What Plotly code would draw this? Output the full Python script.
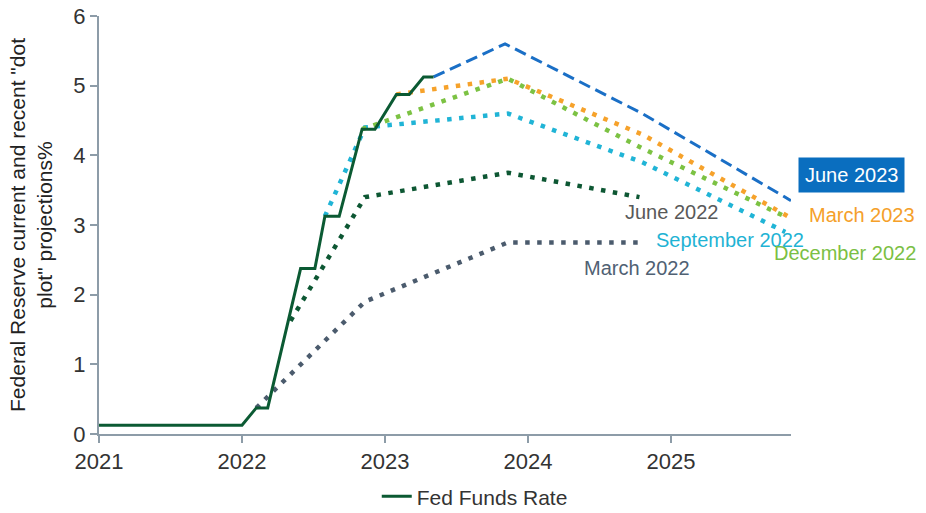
import plotly.graph_objects as go

# Fed funds rate (midpoint of target range), decimal years
ffr_x = [2021.0, 2022.0, 2022.10, 2022.18, 2022.41, 2022.51, 2022.58, 2022.68,
         2022.84, 2022.93, 2023.08, 2023.17, 2023.27, 2023.34]
ffr_y = [0.125, 0.125, 0.375, 0.375, 2.375, 2.375, 3.125, 3.125,
         4.375, 4.375, 4.875, 4.875, 5.125, 5.125]

# Dot-plot projections (start at policy rate, then year-end medians)
mar22_x = [2022.10, 2022.86, 2023.86, 2024.78]
mar22_y = [0.375, 1.9, 2.75, 2.75]
jun22_x = [2022.34, 2022.86, 2023.86, 2024.78]
jun22_y = [1.625, 3.4, 3.75, 3.4]
sep22_x = [2022.58, 2022.86, 2023.86, 2024.80, 2025.80]
sep22_y = [3.125, 4.4, 4.6, 3.9, 2.9]
dec22_x = [2022.84, 2023.86, 2024.80, 2025.82]
dec22_y = [4.375, 5.1, 4.1, 3.1]
mar23_x = [2023.08, 2023.86, 2024.80, 2025.84]
mar23_y = [4.875, 5.1, 4.3, 3.1]
jun23_x = [2023.34, 2023.84, 2024.80, 2025.84]
jun23_y = [5.125, 5.6, 4.6, 3.35]

tick_vals = [2021, 2022, 2023, 2024, 2025]
tick_text = ["2021", "2022", "2023", "2024", "2025"]

FONT = "Liberation Sans, Arial, sans-serif"

fig = go.Figure()

def proj(x, y, color, dash, width, name):
    fig.add_trace(go.Scatter(x=x, y=y, mode="lines", name=name, showlegend=False,
                             line=dict(color=color, width=width, dash=dash),
                             hoverinfo="skip"))

DOT = "4.5px,7.5px"
proj(mar22_x, mar22_y, "#4b5b6d", DOT, 4.5, "March 2022")
proj(jun22_x, jun22_y, "#0d5733", DOT, 4.5, "June 2022")
proj(sep22_x, sep22_y, "#20b4d6", DOT, 4.5, "September 2022")
proj(dec22_x, dec22_y, "#7cc243", DOT, 4.5, "December 2022")
proj(mar23_x, mar23_y, "#f6a22b", DOT, 4.5, "March 2023")
proj(jun23_x, jun23_y, "#1a6fc6", "12px,6px", 3, "June 2023")

fig.add_trace(go.Scatter(x=ffr_x, y=ffr_y, mode="lines", name="Fed Funds Rate",
                         line=dict(color="#0b5a33", width=3)))

def lab(text, x, y, color, **kw):
    fig.add_annotation(text=text, x=x, y=y, xref="paper", yref="paper",
                       showarrow=False, font=dict(family=FONT, size=20, color=color),
                       xanchor="center", yanchor="middle", **kw)

lab("June 2023", 1.0874, 0.6196, "white", bgcolor="#0a6ebf", borderpad=6)
lab("March 2023", 1.102, 0.524, "#f5a02a")
lab("June 2022", 0.828, 0.531, "#595959")
lab("September 2022", 0.912, 0.464, "#1fb3d4")
lab("December 2022", 1.078, 0.433, "#7bbf44")
lab("March 2022", 0.777, 0.397, "#506173")

axis_col = "#8d9ca8"
fig.update_layout(
    width=926, height=513,
    margin=dict(l=99, r=135, t=16, b=79, autoexpand=False),
    paper_bgcolor="white", plot_bgcolor="white",
    font=dict(family=FONT, size=21, color="#333333"),
    showlegend=True,
    legend=dict(orientation="h", x=0.543, y=-0.15, xanchor="center", yanchor="middle",
                font=dict(family=FONT, size=21, color="#333333"), bgcolor="rgba(0,0,0,0)"),
    xaxis=dict(range=[2021, 2025.84], tickvals=tick_vals, ticktext=tick_text,
               showgrid=False, zeroline=False, showline=True, linecolor=axis_col,
               linewidth=2, ticks="outside", ticklen=7, tickcolor=axis_col, tickwidth=2,
               automargin=False, ticklabeloverflow="allow",
               tickfont=dict(size=22, color="#333333")),
    yaxis=dict(range=[0, 6], dtick=1, showgrid=False, zeroline=False, showline=True,
               linecolor=axis_col, linewidth=2, ticks="outside", ticklen=7,
               tickcolor=axis_col, tickwidth=2, automargin=False,
               ticklabeloverflow="allow",
               tickfont=dict(size=22, color="#333333"),
               title=dict(text="Federal Reserve current and recent \"dot<br>plot\" projections%",
                          font=dict(size=21, color="#222222"))),
)

fig.write_html("out.html", config={"displayModeBar": False},
               post_script="document.body.style.margin='0';")
